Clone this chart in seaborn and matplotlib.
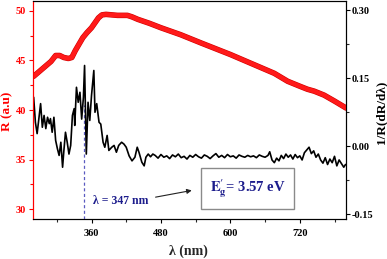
import matplotlib
matplotlib.use("Agg")
import matplotlib.pyplot as plt
import matplotlib.patheffects as pe
import seaborn as sns
import pandas as pd

# Reflectance R (left axis)
r_wavelength = [260, 270, 280, 290, 298, 305, 312, 320, 326, 332, 338, 345, 352, 360, 366, 372,
                378, 385, 395, 405, 415, 422, 430, 440, 460, 480, 514, 550, 600, 640, 676, 699,
                720, 733, 745, 762, 780, 800]
r_values = [43.4, 43.9, 44.4, 44.9, 45.5, 45.5, 45.3, 45.2, 45.3, 46.0, 46.6, 47.3, 47.8, 48.3, 48.8, 49.3,
            49.6, 49.65, 49.6, 49.55, 49.55, 49.55, 49.4, 49.15, 48.75, 48.3, 47.6, 46.75, 45.6, 44.6, 43.7, 42.9,
            42.4, 42.1, 41.9, 41.5, 40.9, 40.2]

# Derivative 1/R(dR/dλ) (right axis)
d_wavelength = [260, 263, 266, 269, 272, 275, 278, 281, 284, 287, 289, 292, 295, 298, 301, 304, 307, 310,
                312, 315, 318, 321, 324, 327, 330, 331, 334, 337, 340, 343, 346, 348, 351, 354, 357, 360,
                364, 366, 369, 373, 376, 380, 383, 387, 390, 395, 399, 403, 407, 412, 416, 420, 425, 430,
                435, 439, 442, 447, 451, 454, 458, 462, 466,
                470, 475, 480, 485, 490, 495, 500, 505, 510, 515, 520, 525, 530, 535, 540, 545, 550, 555,
                560, 565, 570, 575, 580, 585, 590, 595, 600, 605, 610, 615, 620, 625, 630, 635, 640, 645,
                650, 655, 660, 665, 668, 672, 676, 680, 684, 688, 692, 696, 700, 704, 708, 712, 716, 720,
                724, 728, 732, 736, 740, 744, 748, 752, 756, 760, 764, 768, 772, 776, 780, 784, 788, 792,
                796, 799]
d_values = [0.108, 0.053, 0.028, 0.061, 0.094, 0.042, 0.068, 0.039, 0.064, 0.050, 0.061, 0.031, 0.064,
            0.013, -0.005, -0.020, 0.009, -0.046, -0.013, 0.031, 0.009, -0.017, 0.002, 0.068, 0.083, 0.046,
            0.130, 0.097, 0.119, 0.060, 0.108, 0.178, -0.017, 0.097, 0.057, 0.112, 0.167, 0.075, 0.094,
            0.053, 0.049, 0.009, -0.002, 0.024, -0.009, -0.002, 0.002, -0.013, 0.002, 0.009, 0.005, -0.002,
            -0.021, -0.032, -0.024, -0.002, -0.013, -0.035, -0.043, -0.024, -0.017, -0.023, -0.017,
            -0.020, -0.026, -0.018, -0.024, -0.021, -0.027, -0.019, -0.023, -0.017, -0.025, -0.022, -0.028,
            -0.020, -0.024, -0.018, -0.023, -0.026, -0.019, -0.022, -0.027, -0.021, -0.016, -0.024, -0.020,
            -0.025, -0.018, -0.023, -0.021, -0.026, -0.019, -0.022, -0.024, -0.020, -0.023, -0.021, -0.025,
            -0.019, -0.022, -0.024, -0.020, -0.012, -0.030, -0.036, -0.026, -0.032, -0.020, -0.027, -0.017,
            -0.024, -0.019, -0.028, -0.018, -0.025, -0.021, -0.030, -0.014, -0.008, -0.002, -0.016, -0.010,
            -0.024, -0.017, -0.030, -0.037, -0.025, -0.040, -0.028, -0.036, -0.022, -0.043, -0.030, -0.038,
            -0.046, -0.040]

x_ticks = [360, 480, 600, 720]
left_ticks = [30, 35, 40, 45, 50]
right_ticks = [-0.15, 0.00, 0.15, 0.30]
right_ticklabels = ["-0.15", "0.00", "0.15", "0.30"]
lambda_edge = 347
label_lambda = "λ = 347 nm"
label_eg = r"$\mathbf{E_g^{\prime}}$= 3.57 eV"

sns.set_style("ticks")
plt.rcParams["font.family"] = ["Liberation Serif", "DejaVu Serif"]
plt.rcParams["font.weight"] = "bold"
plt.rcParams["mathtext.fontset"] = "stix"

fig = plt.figure(figsize=(3.87, 2.59), dpi=100)
ax = fig.add_axes([32.5 / 387, 1 - 219 / 259, 313 / 387, 218 / 259])
ax2 = ax.twinx()

df_r = pd.DataFrame({"wl": r_wavelength, "R": r_values})
df_d = pd.DataFrame({"wl": d_wavelength, "D": d_values})

sns.lineplot(data=df_r, x="wl", y="R", ax=ax, color="#ff1a1a", lw=3.2, zorder=3,
             path_effects=[pe.Stroke(linewidth=4.0, foreground="#d00000"), pe.Normal()])
sns.lineplot(data=df_d, x="wl", y="D", ax=ax2, color="black", lw=1.2, zorder=2)

ax.set_xlim(258, 799)
ax.set_ylim(29, 51)
ax2.set_ylim(-0.16, 0.32)

ax.set_xticks(x_ticks)
ax.set_xticks([300, 420, 540, 660, 780], minor=True)
ax.set_yticks(left_ticks)
ax.set_yticks([32.5, 37.5, 42.5, 47.5], minor=True)
ax2.set_yticks(right_ticks)
ax2.set_yticklabels(right_ticklabels)
ax2.set_yticks([-0.075, 0.075, 0.225], minor=True)

ax.tick_params(axis="x", which="major", direction="out", length=3, width=0.8, labelsize=7.5, pad=4, colors="black")
ax.tick_params(axis="x", which="minor", direction="out", length=2, width=0.8)
ax.tick_params(axis="y", which="major", direction="out", length=3, width=0.8, labelsize=7.5, colors="red", pad=1.5)
ax.tick_params(axis="y", which="minor", direction="out", length=2, width=0.8, colors="red")
ax2.tick_params(axis="y", which="major", direction="out", length=3, width=0.8, labelsize=7.5, colors="black", pad=1.5)
ax2.tick_params(axis="y", which="minor", direction="out", length=2, width=0.8)

for a in (ax, ax2):
    for s in a.spines.values():
        s.set_linewidth(0.8)
        s.set_color("black")
        s.set_visible(True)
ax2.spines["left"].set_color("red")
ax.spines["left"].set_color("red")

ax.set_xlabel("λ (nm)", fontsize=10, fontweight="bold")
ax.xaxis.set_label_coords(0.497, -0.115)
ax.set_ylabel("R (a.u)", fontsize=9.5, fontweight="bold", color="red", va="center")
ax.yaxis.set_label_coords(-0.082, 0.495)
ax2.set_ylabel("1/R(dR/dλ)", fontsize=9.5, fontweight="bold", color="black", va="center")
ax2.yaxis.set_label_coords(1.113, 0.49)

navy = "#1c1c8c"
ax2.plot([lambda_edge, lambda_edge], [-0.16, 0.09], color="#5a5ac0", lw=0.9,
         linestyle=(0, (2.5, 2)), zorder=1)
ax2.text(362, -0.12, label_lambda, color=navy, fontsize=8.5, fontweight="bold",
         ha="left", va="center")
ax2.annotate("", xy=(538, -0.096), xytext=(466, -0.113),
             arrowprops=dict(arrowstyle="-|>", color="#222222", lw=0.8, mutation_scale=7))
ax2.text(630, -0.093, label_eg, color=navy, fontsize=10.5, fontweight="bold",
         ha="center", va="center",
         bbox=dict(boxstyle="square,pad=0.6", fc="white", ec="#8a8a8a", lw=1.0))

fig.savefig("out.png", dpi=100)
